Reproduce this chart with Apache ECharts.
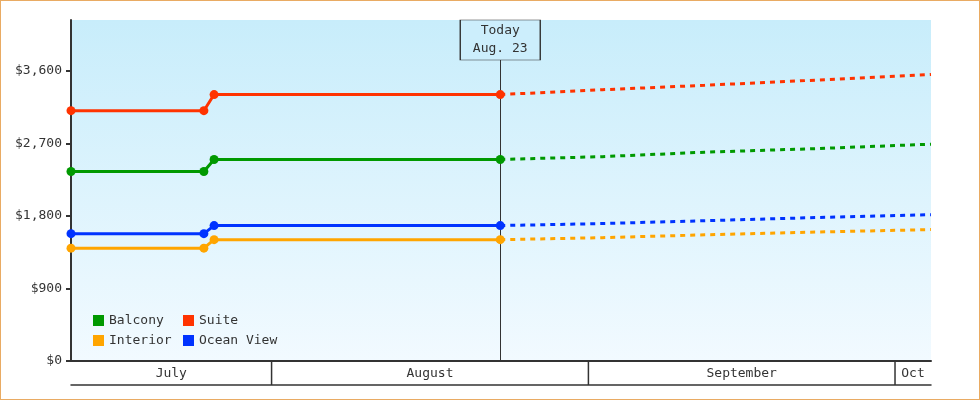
<!DOCTYPE html>
<html>
<head>
<meta charset="utf-8">
<title>Cabin prices</title>
<script src="https://cdn.jsdelivr.net/npm/echarts@6/dist/echarts.min.js"></script>
<style>
    html, body { margin: 0; padding: 0; background: #fff; }
    #wrap { position: relative; width: 980px; height: 400px; }
    #chart { width: 980px; height: 400px; }
    #frame { position: absolute; left: 0; top: 0; width: 980px; height: 400px; box-sizing: border-box;
             border: 1px solid #e9ab63; pointer-events: none; }
</style>
</head>
<body>
<div id="wrap"><div id="chart"></div><div id="frame"></div></div>
<script>
// x range and the "today" line
var xStart = '2013-07-12 09:00';
var xEnd = '2013-10-04 12:30';
var today = '2013-08-23 09:00';
var todayLabel = 'Today\nAug. 23';

// price history (solid part)
var histDates = ['2013-07-12 09:00', '2013-07-25 09:00', '2013-07-26 09:00', '2013-08-23 09:00'];
var balconyHist = [2350, 2350, 2500, 2500];
var suiteHist = [3105, 3105, 3305, 3305];
var interiorHist = [1400, 1400, 1505, 1505];
var oceanHist = [1580, 1580, 1680, 1680];

// forecast (dotted part)
var fcDates = ['2013-08-23 09:00', '2013-09-02 09:00', '2013-09-12 09:00', '2013-09-23 09:00', '2013-10-04 12:30'];
var balconyFc = [2500, 2535, 2590, 2635, 2690];
var suiteFc = [3305, 3365, 3420, 3485, 3555];
var interiorFc = [1505, 1530, 1565, 1600, 1630];
var oceanFc = [1680, 1705, 1740, 1780, 1815];

// y ticks
var yTicks = [0, 900, 1800, 2700, 3600];
var yMax = 4230;

// month band under the plot
var monthNames = ['July', 'August', 'September', 'Oct'];
var monthStart = ['2013-07-01', '2013-08-01', '2013-09-01', '2013-10-01'];
var monthEnd = ['2013-08-01', '2013-09-01', '2013-10-01', '2013-11-01'];

var mono = '"DejaVu Sans Mono", monospace';

function t(s) {
    var p = s.split(/[- :]/);
    return new Date(+p[0], +p[1] - 1, +p[2], +(p[3] || 0), +(p[4] || 0)).getTime();
}
function pairs(dates, vals) {
    return dates.map(function (d, i) { return [t(d), vals[i]]; });
}

var xMin = t(xStart), xMax = t(xEnd);

var colors = { Balcony: '#009900', Suite: '#ff3300', Interior: '#ffa500', 'Ocean View': '#0033ff' };

function hist(name, vals) {
    return {
        name: name, type: 'line', xAxisIndex: 0, yAxisIndex: 0,
        data: pairs(histDates, vals),
        color: colors[name],
        symbol: 'circle', symbolSize: 9, showSymbol: true,
        lineStyle: { width: 3 },
        z: 3
    };
}
function fc(name, vals) {
    return {
        name: name, type: 'line', xAxisIndex: 0, yAxisIndex: 0,
        data: pairs(fcDates, vals),
        color: colors[name],
        showSymbol: false,
        lineStyle: { width: 3, type: [5, 5], cap: 'butt' },
        z: 2
    };
}

var chart = echarts.init(document.getElementById('chart'));

var todaySeries = fc('Balcony', balconyFc);
todaySeries.markLine = {
    silent: true, z: 1,
    symbol: ['none', 'none'],
    label: { show: false },
    lineStyle: { color: '#333', width: 1, type: 'solid' },
    data: [[{ coord: [t(today), 0] }, { coord: [t(today), yMax] }]]
};
todaySeries.markPoint = {
    silent: true, z: 6,
    symbol: 'rect', symbolSize: [80, 40], symbolOffset: [0, 20],
    itemStyle: { color: '#cceefc', borderColor: '#333', borderWidth: 1 },
    label: {
        show: true, position: 'inside', formatter: todayLabel,
        fontFamily: mono, fontSize: 13, lineHeight: 18, color: '#333'
    },
    data: [{ coord: [t(today), yMax] }]
};

var legendText = { fontFamily: mono, fontSize: 13, color: '#333' };

var option = {
    animation: false,
    backgroundColor: '#fff',
    grid: [
        {
            left: 71, right: 49, top: 20, bottom: 39, show: true, borderWidth: 0,
            backgroundColor: new echarts.graphic.LinearGradient(0, 0, 0, 1, [
                { offset: 0, color: '#c8edfb' },
                { offset: 1, color: '#f2faff' }
            ])
        },
        { left: 71, right: 49, top: 361, bottom: 15 }
    ],
    legend: [
        {
            data: ['Balcony', 'Interior'], orient: 'vertical', left: 88, top: 309,
            icon: 'rect', itemWidth: 11, itemHeight: 11, itemGap: 7,
            textStyle: legendText
        },
        {
            data: ['Suite', 'Ocean View'], orient: 'vertical', left: 178, top: 309,
            icon: 'rect', itemWidth: 11, itemHeight: 11, itemGap: 7,
            textStyle: legendText
        }
    ],
    xAxis: [
        {
            type: 'time', gridIndex: 0, min: xMin, max: xMax,
            axisLine: { lineStyle: { color: '#333', width: 2 } },
            axisTick: { show: false }, axisLabel: { show: false }, splitLine: { show: false }
        },
        {
            type: 'time', gridIndex: 1, min: xMin, max: xMax,
            axisLine: { lineStyle: { color: '#333', width: 1.5 } },
            axisTick: { show: false }, axisLabel: { show: false }, splitLine: { show: false }
        }
    ],
    yAxis: [
        {
            type: 'value', gridIndex: 0, min: 0, max: yMax,
            axisLine: { show: true, lineStyle: { color: '#333', width: 2 } },
            axisTick: { show: true, length: 5, customValues: yTicks, lineStyle: { color: '#333', width: 2 } },
            axisLabel: {
                customValues: yTicks, margin: 9,
                fontFamily: mono, fontSize: 13, color: '#333',
                formatter: function (v) { return '$' + v.toLocaleString('en-US'); }
            },
            splitLine: { show: false }
        },
        { type: 'value', gridIndex: 1, min: 0, max: 1, show: false }
    ],
    series: [
        hist('Balcony', balconyHist), todaySeries,
        hist('Suite', suiteHist), fc('Suite', suiteFc),
        hist('Interior', interiorHist), fc('Interior', interiorFc),
        hist('Ocean View', oceanHist), fc('Ocean View', oceanFc),
        {
            type: 'custom', xAxisIndex: 1, yAxisIndex: 1, silent: true,
            data: monthStart.map(function (s, i) { return [t(s), t(monthEnd[i])]; }),
            encode: { x: [0, 1] },
            renderItem: function (params, api) {
                var s = api.value(0), e = api.value(1);
                var a = api.coord([Math.max(s, xMin), 1]);
                var b = api.coord([Math.min(e, xMax), 0]);
                var kids = [{
                    type: 'text',
                    style: {
                        text: monthNames[params.dataIndex],
                        x: (a[0] + b[0]) / 2, y: (a[1] + b[1]) / 2 + 1,
                        align: 'center', verticalAlign: 'middle',
                        fontFamily: mono, fontSize: 13, fill: '#333'
                    }
                }];
                if (s > xMin) {
                    kids.push({
                        type: 'line',
                        shape: { x1: a[0], y1: a[1], x2: a[0], y2: b[1] },
                        style: { stroke: '#333', lineWidth: 1.5 }
                    });
                }
                return { type: 'group', children: kids };
            }
        }
    ]
};

chart.setOption(option);
</script>
</body>
</html>
